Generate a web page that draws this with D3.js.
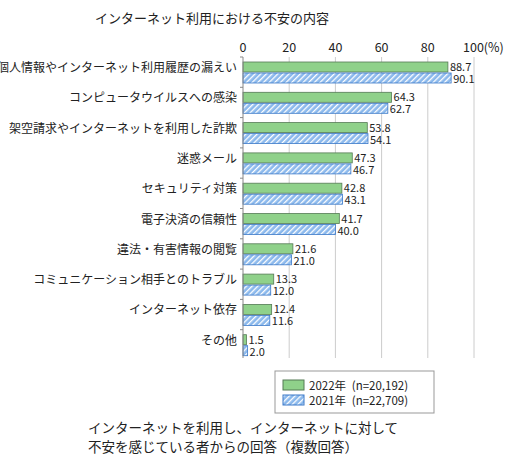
<!DOCTYPE html>
<html><head><meta charset="utf-8">
<script src="https://cdn.jsdelivr.net/npm/d3@7"></script>
<style>body{margin:0;background:#fff}text{font-family:"Noto Sans CJK JP",sans-serif;fill:#222}</style>
</head><body><svg id="c" width="507" height="473"></svg>
<script>
const categories = ['個人情報やインターネット利用履歴の漏えい','コンピュータウイルスへの感染','架空請求やインターネットを利用した詐欺','迷惑メール','セキュリティ対策','電子決済の信頼性','違法・有害情報の閲覧','コミュニケーション相手とのトラブル','インターネット依存','その他'];
const values2022 = [88.7, 64.3, 53.8, 47.3, 42.8, 41.7, 21.6, 13.3, 12.4, 1.5];
const values2021 = [90.1, 62.7, 54.1, 46.7, 43.1, 40.0, 21.0, 12.0, 11.6, 2.0];
const ticks = [0, 20, 40, 60, 80, 100];
const seriesLabels = ['2022年\u2002(n=20,192)', '2021年\u2002(n=22,709)'];

const svg = d3.select('#c');
const defs = svg.append('defs');
const pat = defs.append('pattern').attr('id', 'hatch').attr('patternUnits', 'userSpaceOnUse')
  .attr('width', 4).attr('height', 4).attr('patternTransform', 'rotate(45)');
pat.append('rect').attr('width', 4).attr('height', 4).attr('fill', '#8ab8ec');
pat.append('rect').attr('width', 1.3).attr('height', 4).attr('fill', '#fff');

const x = d3.scaleLinear().domain([0, 100]).range([243, 474]);
const y = d3.scaleBand().domain(categories).range([57, 360]);

svg.append('text').attr('x', 95).attr('y', 23).attr('font-size', 13).text('インターネット利用における不安の内容');

// grid
svg.append('g').selectAll('line').data(ticks.slice(1)).enter().append('line')
  .attr('x1', d => x(d)).attr('x2', d => x(d)).attr('y1', 57).attr('y2', 358)
  .attr('stroke', '#ccc');
svg.append('g').selectAll('text').data(ticks).enter().append('text')
  .attr('x', d => x(d)).attr('y', 52).attr('text-anchor', d => d === 100 ? 'start' : 'middle')
  .attr('dx', d => d === 100 ? -11 : 0)
  .attr('font-size', 12.5).text(d => d === 100 ? '100(%)' : d);

const bh = 10;
const g = svg.append('g');
categories.forEach((c, i) => {
  const y0 = y(c) + 5;
  g.append('rect').attr('x', x(0)).attr('y', y0).attr('width', x(values2022[i]) - x(0)).attr('height', bh)
    .attr('fill', '#8fd18a').attr('stroke', '#557a55').attr('stroke-width', 0.8);
  g.append('rect').attr('x', x(0)).attr('y', y0 + bh + 1).attr('width', x(values2021[i]) - x(0)).attr('height', bh)
    .attr('fill', 'url(#hatch)').attr('stroke', '#3a78c8').attr('stroke-width', 0.8);
  g.append('text').attr('x', x(values2022[i]) + 2).attr('y', y0 + 9).attr('font-size', 11).text(values2022[i].toFixed(1));
  g.append('text').attr('x', x(values2021[i]) + 2).attr('y', y0 + bh + 11).attr('font-size', 11).text(values2021[i].toFixed(1));
  g.append('text').attr('x', x(0) - 6).attr('y', y0 + 10).attr('text-anchor', 'end').attr('font-size', 12).text(c);
});

// left axis with ticks between categories
svg.append('line').attr('x1', x(0)).attr('x2', x(0)).attr('y1', 57).attr('y2', 358).attr('stroke', '#888');
svg.append('g').selectAll('line').data(categories).enter().append('line')
  .attr('x1', x(0) - 3).attr('x2', x(0)).attr('y1', d => y(d)).attr('y2', d => y(d)).attr('stroke', '#888');

// legend
const lg = svg.append('g');
lg.append('rect').attr('x', 275).attr('y', 371).attr('width', 159).attr('height', 42).attr('fill', '#fff').attr('stroke', '#999');
lg.append('rect').attr('x', 283).attr('y', 380).attr('width', 21).attr('height', 10).attr('fill', '#8fd18a').attr('stroke', '#557a55');
lg.append('rect').attr('x', 283).attr('y', 395).attr('width', 21).attr('height', 10).attr('fill', 'url(#hatch)').attr('stroke', '#3a78c8');
seriesLabels.forEach((t, i) => lg.append('text').attr('x', 309).attr('y', 390 + i * 15).attr('font-size', 11.5).text(t));

svg.append('text').attr('x', 88).attr('y', 433).attr('font-size', 13.5).text('インターネットを利用し、インターネットに対して');
svg.append('text').attr('x', 88).attr('y', 452).attr('font-size', 13.5).text('不安を感じている者からの回答（複数回答）');
</script></body></html>
